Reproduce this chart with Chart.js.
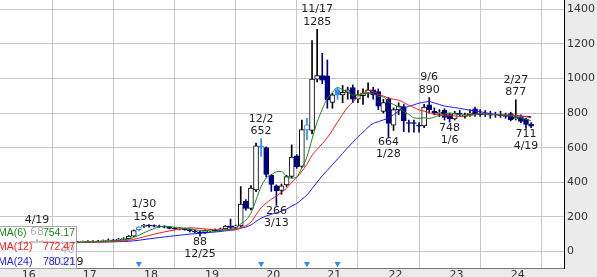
<!DOCTYPE html>
<html>
<head>
<meta charset="utf-8">
<script src="https://cdn.jsdelivr.net/npm/chart.js@4/dist/chart.umd.min.js"></script>
<style>
  html, body { margin: 0; padding: 0; background: #ebebeb; overflow: hidden; }
  canvas { display: block; }
</style>
</head>
<body>
<canvas id="chart" width="597" height="277"></canvas>
<script>
// monthly candles, index 0 = Jan 2016 ... index 100 = May 2024
const opens  = [55,52,50,56,58,54,50,53,50,47,48,53,
                56,57,58,60,58,63,66,64,70,74,88,125,
                144,152,150,146,144,140,133,128,132,126,118,112,
                108,120,123,122,130,148,139,148,290,248,355,610,
                600,440,379,352,385,433,553,492,703,700,996,1017,
                1015,862,936,905,920,947,880,900,915,935,924,810,
                880,730,818,837,745,745,730,726,847,810,798,818,
                791,766,800,780,790,824,800,795,795,793,790,788,
                797,766,775,766,737];
const highs  = [60,57,58,68,62,57,55,56,53,51,55,58,
                60,62,63,64,66,72,70,76,80,92,124,143,
                156,155,153,152,149,145,138,136,135,130,125,118,
                125,128,130,135,150,187,152,375,300,380,626,652,
                605,445,385,390,440,616,560,760,770,1219,1285,1146,
                1107,915,945,960,950,963,930,940,975,950,940,880,
                890,830,860,850,760,760,745,850,890,830,820,825,
                800,810,815,800,820,835,820,815,810,805,810,800,
                805,877,790,770,745];
const lows   = [48,45,48,52,52,46,47,48,44,40,45,50,
                52,54,55,56,56,60,61,62,66,72,85,118,
                138,140,142,138,136,130,126,124,122,112,105,88,
                104,115,116,118,126,128,132,140,238,240,345,549,
                430,347,266,330,375,425,480,485,645,680,980,970,
                828,828,880,860,880,860,860,850,890,880,820,800,
                664,700,790,693,690,690,690,715,800,790,780,760,
                748,760,785,770,780,780,780,780,770,775,775,770,
                755,760,745,711,715];
const closes = [52,50,56,58,54,50,53,50,47,48,53,56,
                57,58,60,58,63,66,64,70,74,88,121,141,
                152,147,146,144,140,133,130,132,126,118,112,108,
                120,123,120,130,146,139,148,274,248,366,610,603,
                445,388,350,379,433,545,490,705,732,996,1017,990,
                876,905,905,920,935,880,905,915,935,905,840,860,
                740,820,840,755,740,740,725,835,820,800,805,775,
                768,800,795,790,800,795,790,792,788,790,785,780,
                762,775,752,735,725];

const eventIdx = [23, 47, 56, 62];          // months flagged with ▼
const yearStarts = [0, 12, 24, 36, 48, 60, 72, 84, 96];
const yearLabels = ['16','17','18','19','20','21','22','23','24'];
const yTicks = [0, 200, 400, 600, 800, 1000, 1200, 1400];

// high / low call-outs (month index + date text)
const hiIdx  = [3, 24, 47, 58, 80, 97];
const hiDate = ['4/19', '1/30', '12/2', '11/17', '9/6', '2/27'];
const loIdx  = [9, 35, 50, 72, 84, 99];
const loDate = ['10/19', '12/25', '3/13', '1/28', '1/6', '4/19'];

const maPeriods = [6, 12, 24];
const maColors  = ['#1a8a1a', '#ff1a1a', '#1a1aff'];
const maLast    = ['754.17', '772.47', '780.21'];

const NAVY = '#000080', SKY = '#2a8cff';

function sma(n) {
  return closes.map((_, i) => {
    const w = closes.slice(Math.max(0, i - n + 1), i + 1);
    return w.reduce((a, b) => a + b, 0) / w.length;
  });
}

const isUp = i => closes[i] >= opens[i];
const isEv = i => eventIdx.includes(i);
const bodyFill   = opens.map((_, i) => isEv(i) ? (isUp(i) ? '#fff' : SKY) : (isUp(i) ? '#fff' : NAVY));
const bodyBorder = opens.map((_, i) => isEv(i) ? SKY : (isUp(i) ? '#000' : NAVY));
const wickColor  = opens.map((_, i) => isEv(i) ? SKY : (isUp(i) ? '#000' : NAVY));

const bgPlugin = {
  id: 'bg',
  beforeDraw(chart) {
    const { ctx, chartArea: a, width, height } = chart;
    ctx.save();
    ctx.fillStyle = '#ebebeb';
    ctx.fillRect(0, 0, width, height);
    ctx.fillStyle = '#fff';
    ctx.fillRect(a.left, a.top, a.right - a.left, a.bottom - a.top);
    ctx.restore();
  }
};

const notePlugin = {
  id: 'notes',
  afterDatasetsDraw(chart) {
    const { ctx, scales: { x, y } } = chart;
    ctx.save();
    ctx.font = '11px "DejaVu Sans"';
    ctx.textAlign = 'center';
    ctx.textBaseline = 'middle';
    ctx.fillStyle = '#222';
    hiIdx.forEach((i, k) => {
      const px = x.getPixelForValue(i), py = y.getPixelForValue(highs[i]);
      ctx.fillText(hiDate[k], px, py - 20);
      ctx.fillText(String(highs[i]), px, py - 7.5);
    });
    loIdx.forEach((i, k) => {
      const px = x.getPixelForValue(i), py = y.getPixelForValue(lows[i]);
      ctx.fillText(String(lows[i]), px, py + 6);
      ctx.fillText(loDate[k], px, py + 18);
    });

    // MA legend box (semi-transparent, bottom left)
    ctx.fillStyle = 'rgba(255,255,255,0.65)';
    ctx.fillRect(-1, 227, 78, 41);
    ctx.strokeStyle = '#a8a8a8';
    ctx.lineWidth = 1;
    ctx.strokeRect(-1.5, 226.5, 78, 42);
    ctx.font = '10.5px "Liberation Sans"';
    maPeriods.forEach((p, k) => {
      const ty = 233 + k * 14.5;
      ctx.fillStyle = maColors[k];
      ctx.textAlign = 'left';
      ctx.fillText('MA(' + p + ')', -2, ty);
      ctx.textAlign = 'right';
      ctx.fillText(maLast[k], 75, ty);
    });
    ctx.restore();
  }
};

Chart.defaults.font.family = '"DejaVu Sans"';
Chart.defaults.font.size = 11;

const lineSets = maPeriods.map((p, k) => ({
  type: 'line',
  data: sma(p).map((v, i) => ({ x: i, y: v })),
  borderColor: maColors[k],
  borderWidth: 1,
  pointRadius: 0,
  cubicInterpolationMode: 'monotone',
  order: 1
}));

new Chart(document.getElementById('chart'), {
  type: 'bar',
  data: {
    datasets: [
      {
        type: 'scatter',
        data: eventIdx.map(i => ({ x: i, y: -71 })),
        pointStyle: 'triangle',
        rotation: 180,
        radius: 3.5,
        backgroundColor: SKY,
        borderWidth: 0,
        order: 0
      },
      ...lineSets,
      {
        type: 'bar',
        data: opens.map((o, i) => ({ x: i, y: [o, closes[i]] })),
        backgroundColor: bodyFill,
        borderColor: bodyBorder,
        borderWidth: 1,
        borderSkipped: false,
        barThickness: 5,
        grouped: false,
        order: 2
      },
      {
        type: 'bar',
        data: lows.map((l, i) => ({ x: i, y: [l, highs[i]] })),
        backgroundColor: wickColor,
        borderWidth: 0,
        barThickness: 1,
        grouped: false,
        order: 3
      }
    ]
  },
  options: {
    responsive: false,
    animation: false,
    layout: { padding: 0, autoPadding: false },
    plugins: { legend: { display: false }, tooltip: { enabled: false } },
    scales: {
      x: {
        type: 'linear',
        min: -4.26,
        max: 106.46,
        offset: false,
        afterBuildTicks: s => { s.ticks = yearStarts.map(v => ({ value: v })); },
        afterFit: s => { s.height = 9; s.paddingLeft = 0; s.paddingRight = 0; },
        ticks: {
          callback: v => yearLabels[yearStarts.indexOf(v)],
          labelOffset: 7,
          padding: 1,
          color: '#333',
          maxRotation: 0,
          autoSkip: false
        },
        grid: { color: '#c8c8c8', drawTicks: false },
        border: { color: '#777' }
      },
      y: {
        position: 'right',
        min: -96,
        max: 1454,
        afterBuildTicks: s => { s.ticks = yTicks.map(v => ({ value: v })); },
        afterFit: s => { s.width = 33; s.paddingTop = 0; s.paddingBottom = 0; },
        ticks: { callback: v => String(v), padding: 3, color: '#333' },
        grid: { color: '#c8c8c8', drawTicks: false },
        border: { color: '#000' }
      }
    }
  },
  plugins: [bgPlugin, notePlugin]
});
</script>
</body>
</html>
